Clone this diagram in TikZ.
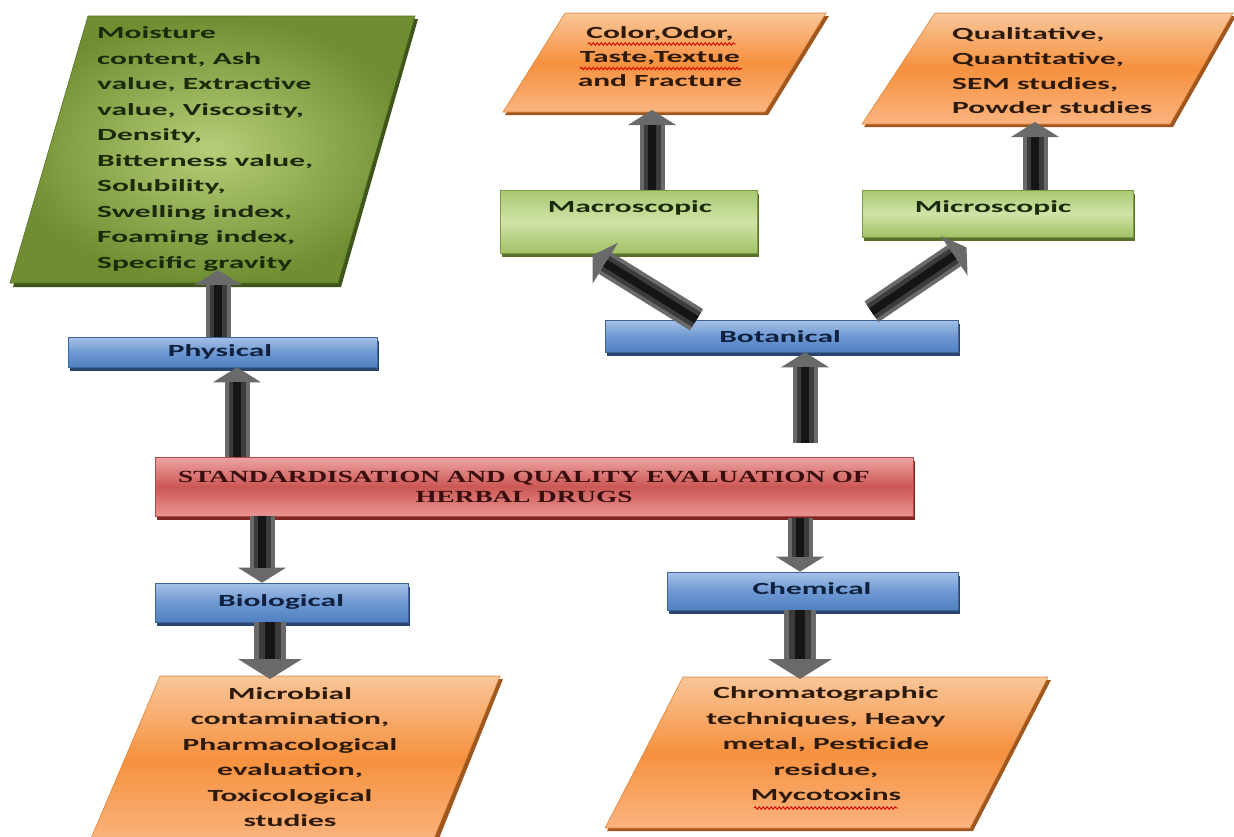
\documentclass[tikz,border=0pt]{standalone}
\usepackage{fontspec}
\setmainfont{Carlito}[FakeStretch=1.85]
\newfontfamily\titlefont{Liberation Serif}[FakeStretch=1.6]
\usetikzlibrary{arrows.meta,shadows,decorations.pathmorphing,calc}
\definecolor{bluetop}{HTML}{A6C2E7}
\definecolor{bluebot}{HTML}{4F80C2}
\definecolor{bluemid}{HTML}{6F99D2}
\definecolor{blueedge}{HTML}{3F6597}
\definecolor{blueshadow}{HTML}{2A4470}
\definecolor{bluetext}{HTML}{10213F}
\definecolor{gtop}{HTML}{A9C873}
\definecolor{gmid}{HTML}{CFE3A6}
\definecolor{gbot}{HTML}{A2C167}
\definecolor{gedge}{HTML}{7F9A45}
\definecolor{gshadow}{HTML}{56702A}
\definecolor{gtext}{HTML}{1C2A0C}
\definecolor{ginner}{HTML}{B7CE78}
\definecolor{gouter}{HTML}{6E8E31}
\definecolor{gbigshadow}{HTML}{3F5419}
\definecolor{otop}{HTML}{F9C699}
\definecolor{omid}{HTML}{F6913F}
\definecolor{obot}{HTML}{FAB47F}
\definecolor{oedge}{HTML}{D9873F}
\definecolor{oshadow}{HTML}{A0561C}
\definecolor{otext}{HTML}{2E1A0A}
\definecolor{rtop}{HTML}{EDA5A4}
\definecolor{rmid}{HTML}{CC5855}
\definecolor{rbot}{HTML}{E99492}
\definecolor{redge}{HTML}{B04A47}
\definecolor{rshadow}{HTML}{7F2725}
\definecolor{rtext}{HTML}{3A0E0E}
\definecolor{arrowbase}{HTML}{6A6A6A}
\definecolor{arrowmid}{HTML}{3C3C3C}
\definecolor{arrowcore}{HTML}{151515}
\tikzset{
  bluebox/.style={rectangle, inner sep=0pt, top color=bluetop, bottom color=bluebot, middle color=bluemid,
    draw=blueedge, line width=0.6pt, text=bluetext,
    drop shadow={shadow xshift=2pt, shadow yshift=-3.5pt, fill=blueshadow, opacity=1}},
  greenbox/.style={rectangle, inner sep=0pt, top color=gtop, bottom color=gbot, middle color=gmid,
    draw=gedge, line width=0.6pt,
    drop shadow={shadow xshift=2pt, shadow yshift=-3.5pt, fill=gshadow, opacity=1}},
  redbox/.style={rectangle, inner sep=0pt, top color=rtop, bottom color=rbot, middle color=rmid,
    draw=redge, line width=0.6pt,
    drop shadow={shadow xshift=2pt, shadow yshift=-3.5pt, fill=rshadow, opacity=1}},
  oshape/.style={top color=otop, bottom color=obot, middle color=omid, draw=oedge, line width=0.6pt},
  barrow/.style={draw=arrowbase, line width=25pt,
    -{Triangle[length=15pt,width=48pt,line width=0pt]},
    postaction={draw=arrowmid, line width=17pt, -, shorten >=15pt},
    postaction={draw=arrowcore, line width=8pt, -, shorten >=15pt}},
  bigarrow/.style={draw=arrowbase, line width=32pt,
    -{Triangle[length=20pt,width=64pt,line width=0pt]},
    postaction={draw=arrowmid, line width=22pt, -, shorten >=20pt},
    postaction={draw=arrowcore, line width=10pt, -, shorten >=20pt}},
  txt/.style={inner sep=0pt, font=\fontsize{17}{25.5}\selectfont\bfseries},
  squig/.style={draw=red!85!black, line width=0.9pt, decorate,
    decoration={snake, amplitude=1.2pt, segment length=4pt}}
}
\begin{document}
\begin{tikzpicture}[x=1pt,y=-1pt]
\clip (0,0) rectangle (1234,836);
\fill[white] (0,0) rectangle (1234,836);

% ---------- parallelograms ----------
\fill[gbigshadow] (91,19) -- (418,19) -- (341,287) -- (13,287) -- cycle;
\shade[inner color=ginner, outer color=gouter, draw=gouter!80!black, line width=0.6pt]
  (88,16) -- (415,16) -- (338,283) -- (10,283) -- cycle;
\coordinate (gB) at (218,270);

\fill[oshadow] (567,16) -- (829,16) -- (768,115) -- (505,115) -- cycle;
\shade[oshape] (565,13) -- (826,13) -- (765,112) -- (503,112) -- cycle;
\coordinate (o1B) at (652,110);

\fill[oshadow] (937,16) -- (1236,16) -- (1173,127) -- (864,127) -- cycle;
\shade[oshape] (935,13) -- (1233,13) -- (1170,124) -- (862,124) -- cycle;
\coordinate (o2B) at (1035,122);

\fill[oshadow] (162,679) -- (503,679) -- (436,846) -- (92,846) -- cycle;
\shade[oshape] (160,676) -- (500,676) -- (432,843) -- (89,843) -- cycle;
\coordinate (o3T) at (270,679);

\fill[oshadow] (685,680) -- (1051,680) -- (973,831) -- (607,831) -- cycle;
\shade[oshape] (683,677) -- (1048,677) -- (970,828) -- (605,828) -- cycle;
\coordinate (o4T) at (800,679);

% ---------- boxes ----------
\node[bluebox, minimum width=309pt, minimum height=30pt] (phys) at (222.5,352) {};
\node[txt, text=bluetext] (physT) at (220,352) {Physical};
\node[redbox, minimum width=758pt, minimum height=59pt] (main) at (534,486.5) {};
\node[inner sep=0pt, align=center, text=rtext,
  font=\titlefont\fontsize{17}{20}\selectfont\bfseries] (mainT) at (524,487)
  {STANDARDISATION AND QUALITY EVALUATION OF\\HERBAL DRUGS};
\node[bluebox, minimum width=353pt, minimum height=32pt] (bot) at (781.5,336) {};
\node[txt, text=bluetext] (botT) at (780,337) {Botanical};
\node[greenbox, minimum width=257pt, minimum height=63pt] (macro) at (628.5,221.5) {};
\node[txt, text=gtext] (macroT) at (630,208) {Macroscopic};
\node[greenbox, minimum width=271pt, minimum height=47pt] (micro) at (997.5,213.5) {};
\node[txt, text=gtext] (microT) at (993,208) {Microscopic};
\node[bluebox, minimum width=253pt, minimum height=39pt] (bio) at (281.5,602.5) {};
\node[txt, text=bluetext] (bioT) at (281,602) {Biological};
\node[bluebox, minimum width=291pt, minimum height=38pt] (chem) at (812.5,591) {};
\node[txt, text=bluetext] (chemT) at (812,589) {Chemical};

% ---------- parallelogram texts ----------
\node[txt, anchor=west, align=left, text=gtext] (greenT) at (97,149)
  {Moisture\\content, Ash\\value, Extractive\\value, Viscosity,\\Density,\\Bitterness value,\\Solubility,\\Swelling index,\\Foaming index,\\Specific gravity};
\node[txt, align=center, text=otext, font=\fontsize{17}{24}\selectfont\bfseries] (o1T) at (660,57)
  {Color,Odor,\\Taste,Textue\\and Fracture};
\node[txt, anchor=west, align=left, text=otext, font=\fontsize{17}{24.7}\selectfont\bfseries] (o2T) at (952,71)
  {Qualitative,\\Quantitative,\\SEM studies,\\Powder studies};
\node[txt, align=center, text=otext] (o3T2) at (290,757)
  {Microbial\\contamination,\\Pharmacological\\evaluation,\\Toxicological\\studies};
\node[txt, align=center, text=otext] (o4T2) at (826,745)
  {Chromatographic\\techniques, Heavy\\metal, Pesticide\\residue,\\Mycotoxins};

% spell-check squiggles
\draw[squig] (588,44) -- (736,44);
\draw[squig] (580,68.5) -- (742,68.5);
\draw[squig] (754,808) -- (898,808);

% ---------- arrows ----------
\coordinate (pA) at ([xshift=-4.5pt]phys.north);
\draw[barrow] (pA) -- (gB);
\coordinate (mp) at ([xshift=14.5pt]phys.south);
\draw[barrow] (mp |- main.north) -- (mp);
\coordinate (mb) at ([xshift=23.5pt]bot.south);
\draw[barrow, shorten <=14pt] (mb |- main.north) -- (mb);
\draw[barrow] (o1B |- macro.north) -- (o1B);
\draw[barrow] (o2B |- micro.north) -- (o2B);
\coordinate (bm1) at ([xshift=-85pt]bot.north);
\coordinate (bm2) at ([xshift=-36pt,yshift=-2pt]macro.south);
\draw[barrow] (bm1) -- (bm2);
\coordinate (bi1) at ([xshift=90pt,yshift=8pt]bot.north);
\coordinate (bi2) at ([xshift=-31pt,yshift=-10pt]micro.south);
\draw[barrow] (bi1) -- (bi2);
\coordinate (mbio) at ([xshift=-19.5pt]bio.north);
\draw[barrow] (mbio |- main.south) -- (mbio);
\draw[bigarrow] (o3T |- bio.south) -- (o3T);
\coordinate (mc) at ([xshift=-12.5pt]chem.north);
\draw[barrow, shorten <=2pt] (mc |- main.south) -- (mc);
\draw[bigarrow] (o4T |- chem.south) -- (o4T);
\end{tikzpicture}
\end{document}
